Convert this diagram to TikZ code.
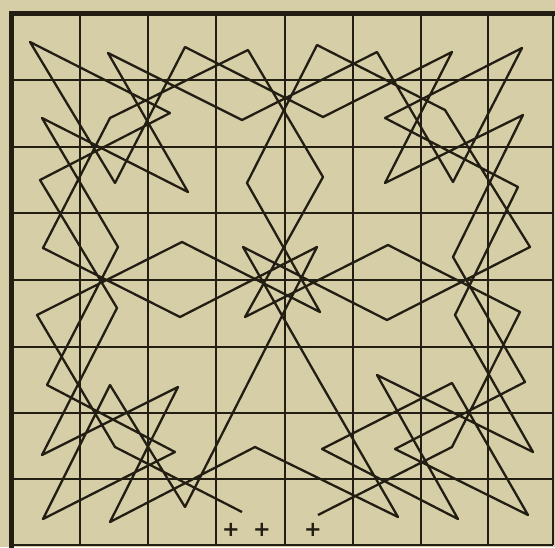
\documentclass[tikz,border=0pt]{standalone}
\usepackage{tikz}
\usepackage{fontspec}
\newfontfamily\plusfont{DejaVu Sans}
\definecolor{paper}{RGB}{214,206,166}
\definecolor{ink}{RGB}{34,30,20}
\tikzset{
  board/.style={draw=ink,line width=2.9pt},
  frame/.style={draw=ink,line width=5pt,line cap=rect},
  tour/.style={draw=ink,line width=2.3pt,line join=round},
  plusmark/.style={text=ink,inner sep=0pt,font=\plusfont\bfseries\fontsize{21}{21}\selectfont}
}
\begin{document}
\begin{tikzpicture}[x=1pt,y=-1pt]
\fill[paper] (0,0) rectangle (555,547);
\useasboundingbox (0,0) rectangle (555,547);
% the board
\draw[board] (80,13) -- (80,545);
\draw[board] (148,13) -- (148,545);
\draw[board] (216,13) -- (216,545);
\draw[board] (285,13) -- (285,545);
\draw[board] (353,13) -- (353,545);
\draw[board] (421,13) -- (421,545);
\draw[board] (488,13) -- (488,545);
\draw[board] (553,13) -- (553,545);
\draw[board] (11,80) -- (553,80);
\draw[board] (11,147) -- (553,147);
\draw[board] (11,213) -- (553,213);
\draw[board] (11,280) -- (553,280);
\draw[board] (11,347) -- (553,347);
\draw[board] (11,413) -- (553,413);
\draw[board] (11,479) -- (553,479);
\draw[board] (11,545) -- (553,545);
\draw[frame] (11,13) -- (553,13);
\draw[frame] (11,13) -- (11,545);
% squares of the knight's path
\coordinate (a8) at (30,42);
\coordinate (b8) at (108,53);
\coordinate (c8) at (185,47);
\coordinate (d8) at (248,50);
\coordinate (e8) at (317,45);
\coordinate (f8) at (377,52);
\coordinate (g8) at (452,52);
\coordinate (h8) at (522,48);
\coordinate (a7) at (42,118);
\coordinate (b7) at (110,118);
\coordinate (c7) at (170,113);
\coordinate (d7) at (242,120);
\coordinate (e7) at (323,117);
\coordinate (f7) at (385,118);
\coordinate (g7) at (445,110);
\coordinate (h7) at (523,115);
\coordinate (a6) at (40,180);
\coordinate (b6) at (115,183);
\coordinate (c6) at (188,192);
\coordinate (d6) at (247,183);
\coordinate (e6) at (323,177);
\coordinate (f6) at (385,183);
\coordinate (g6) at (453,182);
\coordinate (h6) at (518,187);
\coordinate (a5) at (43,248);
\coordinate (b5) at (118,247);
\coordinate (c5) at (182,242);
\coordinate (d5) at (243,247);
\coordinate (e5) at (317,247);
\coordinate (f5) at (388,245);
\coordinate (g5) at (453,257);
\coordinate (h5) at (530,247);
\coordinate (a4) at (37,315);
\coordinate (b4) at (117,308);
\coordinate (c4) at (180,317);
\coordinate (d4) at (245,317);
\coordinate (e4) at (320,312);
\coordinate (f4) at (387,320);
\coordinate (g4) at (455,315);
\coordinate (h4) at (520,312);
\coordinate (a3) at (47,385);
\coordinate (b3) at (110,385);
\coordinate (c3) at (178,387);
\coordinate (d3) at (251,377);
\coordinate (e3) at (320,382);
\coordinate (f3) at (377,375);
\coordinate (g3) at (452,383);
\coordinate (h3) at (525,382);
\coordinate (a2) at (42,455);
\coordinate (b2) at (115,447);
\coordinate (c2) at (175,452);
\coordinate (d2) at (255,447);
\coordinate (e2) at (322,449);
\coordinate (f2) at (395,449);
\coordinate (g2) at (452,447);
\coordinate (h2) at (533,452);
\coordinate (a1) at (43,519);
\coordinate (b1) at (110,522);
\coordinate (c1) at (185,507);
\coordinate (d1) at (242,512);
\coordinate (e1) at (318,515);
\coordinate (f1) at (398,517);
\coordinate (g1) at (458,519);
\coordinate (h1) at (528,515);
% the path, from d1 to e1
\draw[tour] (d1) -- (b2) -- (a4) -- (c5) -- (e4) -- (d6) -- (e8) -- (g7)
  -- (h5) -- (f4) -- (d5) -- (e3) -- (f1) -- (d2) -- (b1) -- (c3)
  -- (a2) -- (b4) -- (a6) -- (c7) -- (a8) -- (b6) -- (c8) -- (e7)
  -- (g8) -- (f6) -- (h7) -- (g5) -- (h3) -- (f2) -- (h1) -- (g3)
  -- (e2) -- (g1) -- (f3) -- (h2) -- (g4) -- (h6) -- (f7) -- (h8)
  -- (g6) -- (f8) -- (d7) -- (b8) -- (c6) -- (a7) -- (b5) -- (a3)
  -- (c2) -- (a1) -- (b3) -- (c1) -- (d3) -- (e5) -- (c4) -- (a5)
  -- (b7) -- (d8) -- (e6) -- (d4) -- (f5) -- (h4) -- (g2) -- (e1);
\node[plusmark] (plus1) at (231,530) {+};
\node[plusmark] (plus2) at (262,530) {+};
\node[plusmark] (plus3) at (313,530) {+};
\end{tikzpicture}
\end{document}
